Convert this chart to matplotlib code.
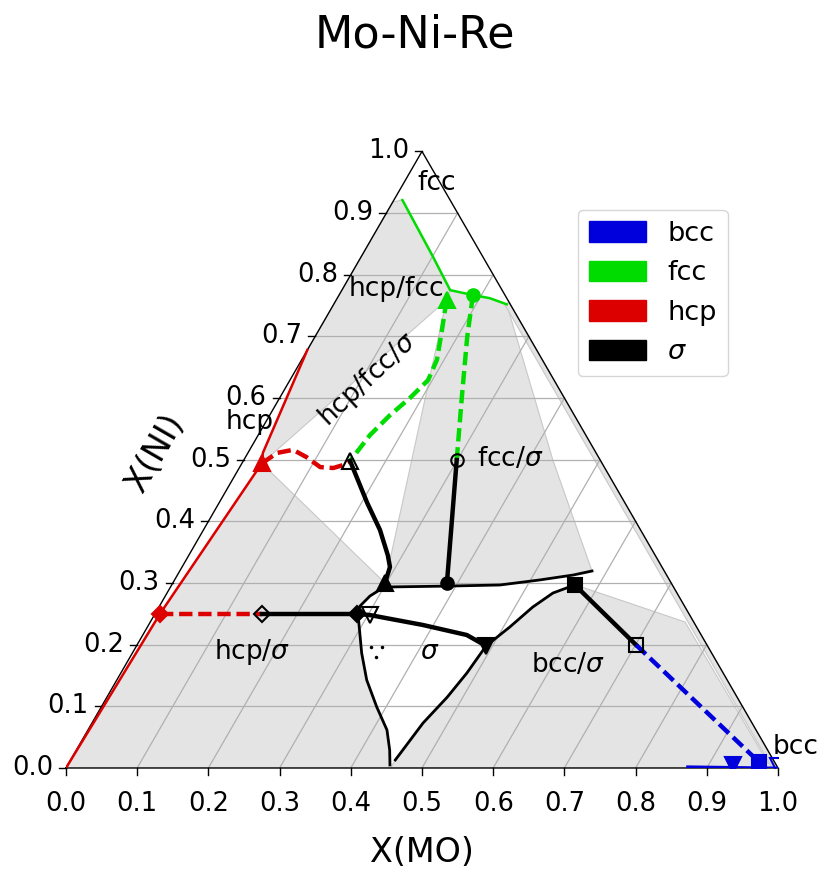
import numpy as np
import matplotlib
matplotlib.use('Agg')
import matplotlib.pyplot as plt
from matplotlib.patches import Patch, Polygon

S3 = np.sqrt(3) / 2

BLUE = '#0000dc'
GREEN = '#00dc00'
RED = '#dc0000'
FILL = '#e4e4e4'

# --- phase boundaries, compositions as (X(MO), X(NI)) ---
fcc_line_mo = [0.012, 0.101, 0.152, 0.188, 0.214, 0.243]
fcc_line_ni = [0.921, 0.829, 0.775, 0.767, 0.762, 0.752]

hcp_line_mo = [0.0, 0.007, 0.028, 0.021, 0.0]
hcp_line_ni = [0.0, 0.25, 0.494, 0.511, 0.678]

bcc_line_mo = [0.872, 1.0]
bcc_line_ni = [0.002, 0.0]

sig_top_mo = [0.301, 0.388, 0.461, 0.513, 0.556, 0.579]
sig_top_ni = [0.2935, 0.295, 0.2968, 0.305, 0.313, 0.3195]
sig_left_mo = [0.299, 0.2875, 0.2816, 0.284, 0.288, 0.322, 0.351, 0.387, 0.420, 0.440, 0.4525]
sig_left_ni = [0.292, 0.279, 0.2627, 0.250, 0.245, 0.1865, 0.1427, 0.0989, 0.0616, 0.0292, 0.005]
sig_right_mo = [0.456, 0.465, 0.478, 0.486, 0.491, 0.509, 0.525, 0.542, 0.5665]
sig_right_ni = [0.013, 0.073, 0.115, 0.154, 0.198, 0.2287, 0.261, 0.2838, 0.297]

# --- three phase tie triangles ---
tri_fcc_mo = [0.155, 0.173, 0.190, 0.194, 0.183, 0.169, 0.157, 0.150]
tri_fcc_ni = [0.759, 0.710, 0.662, 0.629, 0.600, 0.5725, 0.540, 0.498]
tri_hcp_mo = [0.028, 0.041, 0.061, 0.086, 0.113, 0.132, 0.143, 0.150]
tri_hcp_ni = [0.494, 0.511, 0.516, 0.504, 0.488, 0.4865, 0.491, 0.498]
tri_sig_mo = [0.150, 0.208, 0.248, 0.2795, 0.292, 0.298]
tri_sig_ni = [0.498, 0.430, 0.386, 0.345, 0.326, 0.300]

circ_fcc_mo = [0.188, 0.214, 0.255, 0.299]
circ_fcc_ni = [0.767, 0.699, 0.602, 0.4995]
circ_sig_mo = [0.385, 0.299]
circ_sig_ni = [0.300, 0.4995]

dia_hcp_mo = [0.007, 0.150]
dia_hcp_ni = [0.25, 0.25]
dia_sig_mo = [0.284, 0.150]
dia_sig_ni = [0.25, 0.25]

vtri_sig_mo = [0.284, 0.303, 0.385, 0.455, 0.491]
vtri_sig_ni = [0.250, 0.248, 0.232, 0.2157, 0.198]
vtri_bcc_mo = [0.934, 0.998]
vtri_bcc_ni = [0.005, 0.003]

sq_sig_mo = [0.566, 0.701]
sq_sig_ni = [0.297, 0.1995]
sq_bcc_mo = [0.701, 0.968]
sq_bcc_ni = [0.1995, 0.010]

dots_mo = [0.330, 0.346, 0.345]
dots_ni = [0.196, 0.196, 0.180]

# --- two phase regions (outline of tie-line fans) ---
reg_hcp_fcc_mo = [0.0, 0.012, 0.101, 0.152, 0.155, 0.028, 0.021, 0.0]
reg_hcp_fcc_ni = [0.918, 0.921, 0.829, 0.775, 0.759, 0.494, 0.511, 0.678]
reg_fcc_sig_mo = [0.298, 0.155, 0.152, 0.188, 0.214, 0.243, 0.434, 0.579, 0.556, 0.513, 0.461, 0.388, 0.301]
reg_fcc_sig_ni = [0.300, 0.759, 0.775, 0.767, 0.762, 0.752, 0.4995, 0.3195, 0.313, 0.305, 0.297, 0.295, 0.2935]
reg_hcp_sig_mo = [0.0, 0.007, 0.028, 0.298, 0.2875, 0.2816, 0.284, 0.288, 0.322, 0.351, 0.387, 0.420, 0.440, 0.4525, 0.4525]
reg_hcp_sig_ni = [0.0, 0.25, 0.494, 0.300, 0.279, 0.2627, 0.250, 0.245, 0.1865, 0.1427, 0.0989, 0.0616, 0.0292, 0.005, 0.0]
reg_bcc_sig_mo = [0.456, 0.456, 0.465, 0.478, 0.486, 0.491, 0.509, 0.525, 0.542, 0.5665, 0.642, 0.751, 0.982, 1.0]
reg_bcc_sig_ni = [0.0, 0.013, 0.073, 0.115, 0.154, 0.198, 0.2287, 0.261, 0.2838, 0.297, 0.2725, 0.2368, 0.008, 0.0]
reg_edge_mo = [0.245, 1.0, 0.992, 0.240]
reg_edge_ni = [0.755, 0.0, 0.0, 0.752]

ticks = np.round(np.arange(0, 1.01, 0.1), 1)
phases = ['bcc', 'fcc', 'hcp', '$\\sigma$']
phase_colors = [BLUE, GREEN, RED, 'k']


def tern(xm, yn):
    xm = np.asarray(xm, float)
    yn = np.asarray(yn, float)
    return xm + yn / 2, yn * S3


fig = plt.figure(figsize=(8.3, 8.82), dpi=100)
ax = fig.add_axes([66 / 830, 114 / 882, 712 / 830, 618 / 882])
ax.set_xlim(0, 1)
ax.set_ylim(0, 618 / 712)
ax.axis('off')

# two phase fills
for mo, ni in [(reg_hcp_fcc_mo, reg_hcp_fcc_ni), (reg_fcc_sig_mo, reg_fcc_sig_ni),
               (reg_hcp_sig_mo, reg_hcp_sig_ni), (reg_bcc_sig_mo, reg_bcc_sig_ni),
               (reg_edge_mo, reg_edge_ni)]:
    px, py = tern(mo, ni)
    ax.add_patch(Polygon(np.column_stack([px, py]), closed=True, facecolor=FILL,
                         edgecolor='#c8c8c8', lw=0.8, zorder=1))

# grid
for v in ticks[1:-1]:
    gx, gy = tern([0, 1 - v], [v, v])
    ax.plot(gx, gy, color='#b0b0b0', lw=0.9, zorder=2)
    gx, gy = tern([v, v], [0, 1 - v])
    ax.plot(gx, gy, color='#b0b0b0', lw=0.9, zorder=2)

# triangle frame
fx, fy = tern([0, 1, 0, 0], [0, 0, 1, 0])
ax.plot(fx, fy, color='k', lw=1.0, zorder=3, clip_on=False)

# ticks and tick labels
tk = 7 / 712
for v in ticks:
    ax.plot([v, v], [0, -tk], color='k', lw=1.0, clip_on=False)
    ax.text(v, -36 / 712, f'{v:.1f}', ha='center', va='center', fontsize=18.5)
    ex, ey = tern(0, v)
    ax.plot([ex, ex - tk], [ey, ey], color='k', lw=1.0, clip_on=False)
    ax.text(ex - 13 / 712, ey, f'{v:.1f}', ha='right', va='center', fontsize=18.5)


def line(mo, ni, **kw):
    px, py = tern(mo, ni)
    ax.plot(px, py, zorder=5, **kw)


# single phase boundaries
line(fcc_line_mo, fcc_line_ni, color=GREEN, lw=1.8)
line(hcp_line_mo, hcp_line_ni, color=RED, lw=1.8)
line(bcc_line_mo, bcc_line_ni, color=BLUE, lw=2.0)
line(sig_top_mo, sig_top_ni, color='k', lw=2.0)
line(sig_left_mo, sig_left_ni, color='k', lw=2.0)
line(sig_right_mo, sig_right_ni, color='k', lw=2.0)

# three phase edges
dash = (0, (3, 1.3))
line(tri_fcc_mo, tri_fcc_ni, color=GREEN, lw=3.2, ls=dash)
line(tri_hcp_mo, tri_hcp_ni, color=RED, lw=3.2, ls=dash)
line(tri_sig_mo, tri_sig_ni, color='k', lw=3.2)
line(circ_fcc_mo, circ_fcc_ni, color=GREEN, lw=3.2, ls=dash)
line(circ_sig_mo, circ_sig_ni, color='k', lw=3.2)
line(dia_hcp_mo, dia_hcp_ni, color=RED, lw=3.2, ls=dash)
line(dia_sig_mo, dia_sig_ni, color='k', lw=3.2)
line(vtri_sig_mo, vtri_sig_ni, color='k', lw=3.2)
line(sq_sig_mo, sq_sig_ni, color='k', lw=3.2)
line(sq_bcc_mo, sq_bcc_ni, color=BLUE, lw=3.2, ls=dash)

px, py = tern(dots_mo, dots_ni)
ax.plot(px, py, 'k.', ms=3, zorder=5)


def mark(mo, ni, m, c, ms, filled=True):
    px, py = tern(mo, ni)
    ax.plot(px, py, marker=m, ms=ms, ls='none', zorder=6,
            markerfacecolor=c if filled else 'none', markeredgecolor=c, mew=1.5)


# invariant markers
mark(tri_hcp_mo[0], tri_hcp_ni[0], '^', RED, 12)
mark(tri_fcc_mo[0], tri_fcc_ni[0], '^', GREEN, 12)
mark(tri_sig_mo[0], tri_sig_ni[0], '^', 'k', 12, False)
mark(tri_sig_mo[-1], tri_sig_ni[-1], '^', 'k', 12)
mark(circ_fcc_mo[0], circ_fcc_ni[0], 'o', GREEN, 9)
mark(circ_sig_mo[0], circ_sig_ni[0], 'o', 'k', 9)
mark(circ_sig_mo[-1], circ_sig_ni[-1], 'o', 'k', 9, False)
mark(dia_hcp_mo[0], dia_hcp_ni[0], 'D', RED, 8)
mark(dia_sig_mo[-1], dia_sig_ni[-1], 'D', 'k', 8, False)
mark(dia_sig_mo[0], dia_sig_ni[0], 'D', 'k', 8)
mark(vtri_sig_mo[-1], vtri_sig_ni[-1], 'v', 'k', 12)
mark(vtri_sig_mo[1], vtri_sig_ni[1], 'v', 'k', 12, False)
mark(vtri_bcc_mo[0], vtri_bcc_ni[0], 'v', BLUE, 12)
mark(vtri_bcc_mo[1], vtri_bcc_ni[1], 'v', BLUE, 12, False)
mark(sq_sig_mo[0], sq_sig_ni[0], 's', 'k', 10)
mark(sq_sig_mo[-1], sq_sig_ni[-1], 's', 'k', 10, False)
mark(sq_bcc_mo[-1], sq_bcc_ni[-1], 's', BLUE, 10)

# phase region labels
fs = 19
ax.text(0.521, 0.8216, 'fcc', fontsize=fs, ha='center', va='center', zorder=7)
ax.text(0.4635, 0.6728, 'hcp/fcc', fontsize=fs, ha='center', va='center', zorder=7)
ax.text(0.424, 0.545, 'hcp/fcc/$\\sigma$', fontsize=fs, ha='center', va='center',
        rotation=43, zorder=7)
ax.text(0.2584, 0.4855, 'hcp', fontsize=fs, ha='center', va='center', zorder=7)
ax.text(0.6236, 0.434, 'fcc/$\\sigma$', fontsize=fs, ha='center', va='center', zorder=7)
ax.text(0.2612, 0.163, 'hcp/$\\sigma$', fontsize=fs, ha='center', va='center', zorder=7)
ax.text(0.511, 0.163, '$\\sigma$', fontsize=fs, ha='center', va='center', zorder=7)
ax.text(0.705, 0.1447, 'bcc/$\\sigma$', fontsize=fs, ha='center', va='center', zorder=7)
ax.text(1.0253, 0.0295, 'bcc', fontsize=fs, ha='center', va='center', zorder=7)

# axis labels and title
ax.text(0.5, -0.118, 'X(MO)', fontsize=24, ha='center', va='center')
ax.text(0.125, 0.442, 'X(NI)', fontsize=24, ha='center', va='center', rotation=60)
fig.text(0.5, 1 - 35 / 882, 'Mo-Ni-Re', fontsize=32, ha='center', va='center')

handles = [Patch(color=c) for c in phase_colors]
fig.legend(handles, phases, loc='upper left', bbox_to_anchor=(578 / 830, 1 - 210 / 882),
           fontsize=19.5, handlelength=2.1, handleheight=0.8, borderaxespad=0)

fig.savefig('out.png', dpi=100)
